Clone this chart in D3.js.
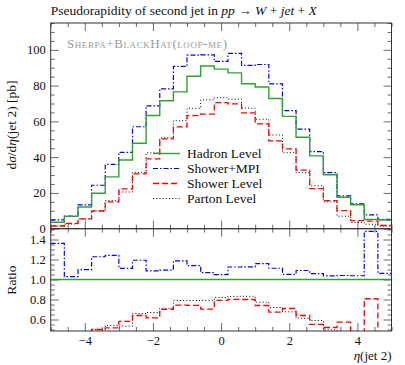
<!DOCTYPE html>
<html>
<head>
<meta charset="utf-8">
<script src="https://cdn.jsdelivr.net/npm/d3@7"></script>
<style>
  body { margin: 0; background: #fff; }
  svg text { font-family: "Liberation Serif", "DejaVu Serif", serif; fill: #111; }
</style>
</head>
<body>
<div id="chart"></div>
<script>
// bin edges in eta (jet 2)
var etaEdges = [-5, -4.6, -4.2, -3.8, -3.4, -3, -2.6, -2.2, -1.8, -1.4, -1, -0.6, -0.2,
                0.2, 0.6, 1, 1.4, 1.8, 2.2, 2.6, 3, 3.4, 3.8, 4.2, 4.6, 5];

var hadronLevel = [3.6, 6.9, 12.1, 19.8, 29.0, 38.4, 47.8, 63.3, 71.5, 76.5, 85.2, 91.0, 89.2,
                   87.1, 81.0, 79.2, 72.8, 62.8, 51.1, 40.7, 30.2, 17.6, 13.4, 5.2, 4.9];
var showerMPI   = [4.9, 7.1, 13.3, 24.3, 36.0, 42.7, 57.0, 68.7, 78.2, 90.7, 97.0, 97.2, 93.5,
                   98.0, 91.3, 91.8, 81.0, 66.0, 55.7, 43.1, 31.3, 18.3, 13.9, 7.7, 5.2];
var showerLevel = [1.5, 3.0, 5.5, 9.9, 15.0, 22.3, 30.6, 39.0, 50.2, 56.9, 63.2, 64.0, 70.5,
                   69.8, 64.8, 58.6, 49.1, 44.6, 32.7, 22.4, 15.7, 10.1, 4.5, 4.2, 1.8];
var partonLevel = [1.5, 2.6, 5.5, 9.9, 15.7, 20.5, 31.5, 42.4, 50.8, 60.4, 67.3, 72.0, 73.2,
                   72.4, 67.4, 61.2, 52.4, 42.5, 31.3, 24.0, 15.0, 7.0, 3.5, 2.5, 1.5];

var xTicks = [-4, -2, 0, 2, 4];
var yTicks = [0, 20, 40, 60, 80, 100];
var ratioTicks = [0.6, 0.8, 1, 1.2, 1.4];

var seriesNames = ["Hadron Level", "Shower+MPI", "Shower Level", "Parton Level"];

function drawChart() {
  var series = [
    { name: seriesNames[0], values: hadronLevel, color: "#34a034", dash: null, width: 1.4 },
    { name: seriesNames[1], values: showerMPI,   color: "#0000ff", dash: "5,2,1.5,2", width: 1.2 },
    { name: seriesNames[2], values: showerLevel, color: "#ff0000", dash: "6,3", width: 1.3 },
    { name: seriesNames[3], values: partonLevel, color: "#000000", dash: "1,2.2", width: 1.0 }
  ];

  var width = 405, height = 365;
  var pLeft = 50.7, pRight = 391.5, pTop = 23, mainBottom = 228.7, ratioBottom = 331;

  var svg = d3.select("#chart")
    .append("svg")
    .attr("width", width)
    .attr("height", height);

  var x = d3.scaleLinear().domain([-5, 5]).range([pLeft, pRight]);
  var y = d3.scaleLinear().domain([0, 115]).range([mainBottom, pTop]);
  var yr = d3.scaleLinear().domain([0.485, 1.508]).range([ratioBottom, mainBottom]);

  // clip paths
  var defs = svg.append("defs");
  defs.append("clipPath").attr("id", "clipMain")
    .append("rect").attr("x", pLeft).attr("y", pTop)
    .attr("width", pRight - pLeft).attr("height", mainBottom - pTop);
  defs.append("clipPath").attr("id", "clipRatio")
    .append("rect").attr("x", pLeft).attr("y", mainBottom)
    .attr("width", pRight - pLeft).attr("height", ratioBottom - mainBottom);

  function stepPoints(vals) {
    var pts = vals.map(function(v, i) { return [etaEdges[i], v]; });
    pts.push([etaEdges[etaEdges.length - 1], vals[vals.length - 1]]);
    return pts;
  }

  function tickAxis(g, axisFn, scale, values, size, labels) {
    var ax = axisFn(scale).tickValues(values).tickSizeInner(-size).tickSizeOuter(0).tickPadding(5);
    if (!labels) ax.tickFormat("");
    g.call(ax);
    g.select(".domain").remove();
    g.selectAll(".tick line").attr("stroke", "#444").attr("stroke-width", 0.8);
    g.selectAll(".tick text").style("font-size", "12.5px").attr("fill", "#111")
      .style("font-family", "Liberation Serif, serif");
  }

  function minorValues(a, b, step) {
    var out = [];
    for (var v = a; v <= b + 1e-9; v += step) out.push(Math.round(v * 1000) / 1000);
    return out;
  }

  function frameTicks(scaleY, majorY, minorY, yTop, yBottom, xLabels) {
    tickAxis(svg.append("g").attr("transform", "translate(" + pLeft + ",0)"), d3.axisLeft, scaleY, majorY, 8, true);
    tickAxis(svg.append("g").attr("transform", "translate(" + pLeft + ",0)"), d3.axisLeft, scaleY, minorY, 4, false);
    tickAxis(svg.append("g").attr("transform", "translate(" + pRight + ",0)"), d3.axisRight, scaleY, majorY, 8, false);
    tickAxis(svg.append("g").attr("transform", "translate(" + pRight + ",0)"), d3.axisRight, scaleY, minorY, 4, false);
    tickAxis(svg.append("g").attr("transform", "translate(0," + yTop + ")"), d3.axisTop, x, xTicks, 8, false);
    tickAxis(svg.append("g").attr("transform", "translate(0," + yTop + ")"), d3.axisTop, x, xMinor, 4, false);
    tickAxis(svg.append("g").attr("transform", "translate(0," + yBottom + ")"), d3.axisBottom, x, xTicks, 8, xLabels);
    tickAxis(svg.append("g").attr("transform", "translate(0," + yBottom + ")"), d3.axisBottom, x, xMinor, 4, false);
  }

  var xMinor = minorValues(-5, 5, 0.5).filter(function(v) { return xTicks.indexOf(v) < 0; });
  var yMinor = minorValues(0, 115, 5).filter(function(v) { return yTicks.indexOf(v) < 0; });
  var rMinor = minorValues(0.5, 1.5, 0.05).filter(function(v) { return ratioTicks.indexOf(v) < 0; });

  frameTicks(y, yTicks, yMinor, pTop, mainBottom, false);
  frameTicks(yr, ratioTicks, rMinor, mainBottom, ratioBottom, true);

  // histograms
  var line = d3.line()
    .x(function(d) { return x(d[0]); })
    .y(function(d) { return y(d[1]); })
    .curve(d3.curveStepAfter);

  var mainG = svg.append("g").attr("clip-path", "url(#clipMain)");
  series.slice().reverse().forEach(function(s) {
    mainG.append("path")
      .datum(stepPoints(s.values))
      .attr("fill", "none")
      .attr("stroke", s.color)
      .attr("stroke-width", s.width)
      .attr("stroke-dasharray", s.dash)
      .attr("d", line);
  });

  // ratio to hadron level
  var rline = d3.line()
    .x(function(d) { return x(d[0]); })
    .y(function(d) { return yr(d[1]); })
    .curve(d3.curveStepAfter);

  var ratioG = svg.append("g").attr("clip-path", "url(#clipRatio)");
  series.slice().reverse().forEach(function(s) {
    var r = s.values.map(function(v, i) { return v / hadronLevel[i]; });
    ratioG.append("path")
      .datum(stepPoints(r))
      .attr("fill", "none")
      .attr("stroke", s.color)
      .attr("stroke-width", s.width)
      .attr("stroke-dasharray", s.dash)
      .attr("d", rline);
  });

  // frames
  svg.append("rect").attr("x", pLeft).attr("y", pTop)
    .attr("width", pRight - pLeft).attr("height", mainBottom - pTop)
    .attr("fill", "none").attr("stroke", "#333").attr("stroke-width", 1);
  svg.append("rect").attr("x", pLeft).attr("y", mainBottom)
    .attr("width", pRight - pLeft).attr("height", ratioBottom - mainBottom)
    .attr("fill", "none").attr("stroke", "#333").attr("stroke-width", 1);

  // title and labels
  var title = svg.append("text").attr("x", pLeft).attr("y", 15).style("font-size", "13.5px");
  title.append("tspan").text("Pseudorapidity of second jet in ");
  title.append("tspan").style("font-style", "italic").text("pp");
  title.append("tspan").text(" \u2192 ");
  title.append("tspan").style("font-style", "italic").text("W");
  title.append("tspan").text(" + ");
  title.append("tspan").style("font-style", "italic").text("jet");
  title.append("tspan").text(" + ");
  title.append("tspan").style("font-style", "italic").text("X");

  svg.append("text")
    .attr("x", 67).attr("y", 48)
    .attr("textLength", 160)
    .attr("lengthAdjust", "spacing")
    .style("font-size", "13px")
    .style("font-variant", "small-caps")
    .style("fill", "#9a9a9a")
    .text("Sherpa+BlackHat(loop-me)");

  var yl = svg.append("text")
    .attr("transform", "translate(16,125) rotate(-90)")
    .attr("text-anchor", "middle")
    .style("font-size", "13.5px");
  yl.append("tspan").text("d");
  yl.append("tspan").style("font-style", "italic").text("\u03c3");
  yl.append("tspan").text("/d");
  yl.append("tspan").style("font-style", "italic").text("\u03b7");
  yl.append("tspan").text("(jet 2) [pb]");

  svg.append("text")
    .attr("transform", "translate(16,280) rotate(-90)")
    .attr("text-anchor", "middle")
    .style("font-size", "13.5px")
    .text("Ratio");

  var xl = svg.append("text")
    .attr("x", pRight).attr("y", 360)
    .attr("text-anchor", "end")
    .style("font-size", "13px");
  xl.append("tspan").style("font-style", "italic").text("\u03b7");
  xl.append("tspan").text("(jet 2)");

  // legend
  var legend = svg.append("g");
  series.forEach(function(s, i) {
    var ly = 153.5 + i * 15;
    legend.append("line")
      .attr("x1", 153).attr("x2", 180)
      .attr("y1", ly).attr("y2", ly)
      .attr("stroke", s.color)
      .attr("stroke-width", s.width)
      .attr("stroke-dasharray", s.dash);
    legend.append("text")
      .attr("x", 187).attr("y", ly + 4.5)
      .style("font-size", "13.5px")
      .text(s.name);
  });
}

drawChart();
</script>
</body>
</html>
